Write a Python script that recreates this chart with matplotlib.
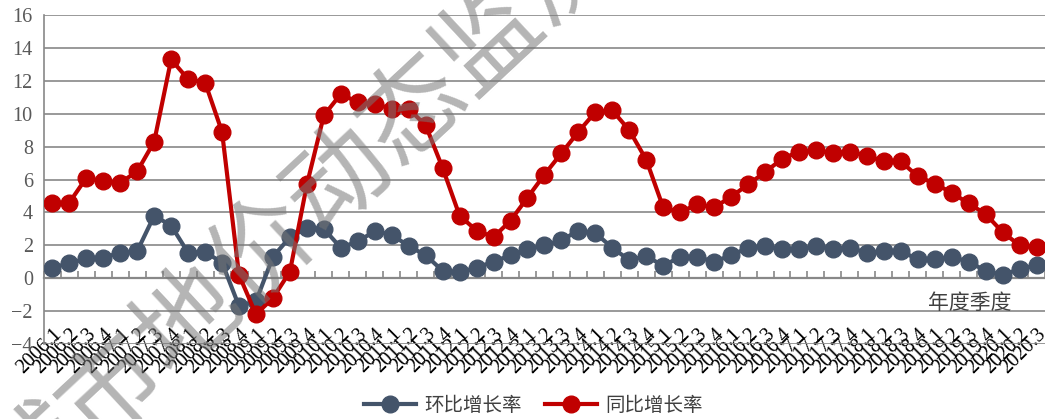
import matplotlib
matplotlib.use("Agg")
import matplotlib.pyplot as plt

# quarters 2006.1 .. 2020.3
labels = [f"{y}.{q}" for y in range(2006, 2021) for q in range(1, 5)][:59]

# 环比增长率 (quarter on quarter)
hb = [0.65, 0.9, 1.2, 1.25, 1.55, 1.65, 3.8, 3.2, 1.55, 1.6,
      0.95, -1.7, -1.4, 1.3, 2.5, 3.05, 3.0, 1.85, 2.25, 2.85,
      2.65, 1.95, 1.4, 0.45, 0.35, 0.65, 1.0, 1.4, 1.75, 2.0,
      2.3, 2.9, 2.75, 1.85, 1.1, 1.35, 0.75, 1.3, 1.3, 1.0,
      1.4, 1.85, 1.95, 1.75, 1.75, 1.95, 1.8, 1.85, 1.55, 1.65,
      1.65, 1.15, 1.15, 1.3, 1.0, 0.45, 0.2, 0.55, 0.8]

# 同比增长率 (year on year)
tb = [4.55, 4.6, 6.1, 5.9, 5.8, 6.5, 8.3, 13.3, 12.1, 11.9,
      8.9, 0.2, -2.2, -1.2, 0.4, 5.7, 9.9, 11.2, 10.7, 10.6,
      10.3, 10.3, 9.3, 6.7, 3.8, 2.9, 2.5, 3.5, 4.9, 6.3,
      7.6, 8.9, 10.1, 10.2, 9.0, 7.2, 4.3, 4.0, 4.5, 4.3,
      4.95, 5.7, 6.45, 7.25, 7.7, 7.8, 7.6, 7.7, 7.45, 7.1,
      7.1, 6.2, 5.75, 5.2, 4.55, 3.9, 2.8, 2.0, 1.9]

CJK = ["Noto Sans CJK SC", "DejaVu Sans"]
SERIF = ["Liberation Serif", "DejaVu Serif"]
GRID = "#888888"

fig = plt.figure(figsize=(10.45, 4.19), dpi=100)
ax = fig.add_axes([0.042, 0.179, 0.958, 0.785])

x = list(range(len(labels)))
ax.plot(x, hb, color="#44546A", lw=3, marker="o", ms=12, label="环比增长率", zorder=3)
ax.plot(x, tb, color="#C00000", lw=3, marker="o", ms=12, label="同比增长率", zorder=4)

ax.set_xlim(-0.5, len(labels) - 0.5)
ax.set_ylim(-4, 16)
ax.set_yticks(range(-4, 17, 2))
ax.grid(axis="y", color=GRID, lw=1.2)
ax.set_axisbelow(True)
for s in ["top", "right", "bottom"]:
    ax.spines[s].set_visible(False)
ax.spines["left"].set_color(GRID)
ax.spines["left"].set_linewidth(1.2)

ax.tick_params(axis="y", length=0, pad=8, labelcolor="#595959")
for t in ax.get_yticklabels():
    t.set_family(SERIF)
    t.set_fontsize(14.5)

ax.set_xticks(x)
ax.set_xticklabels(labels, rotation=45, ha="right", va="top",
                   rotation_mode="anchor", family=SERIF, fontsize=14.5)
ax.tick_params(axis="x", length=0, pad=-14)

# category axis crossing at y=0 with tick marks between categories
sec = ax.secondary_xaxis(0, transform=ax.transData)
sec.set_xticks([i - 0.5 for i in x] + [len(labels) - 0.5])
sec.tick_params(axis="x", direction="in", length=5, width=1.2, color=GRID,
                labelbottom=False)
sec.spines["bottom"].set_color(GRID)
sec.spines["bottom"].set_linewidth(1.6)

ax.text(0.925, 0.125, "年度季度", transform=ax.transAxes, ha="center",
        va="center", family=CJK, fontsize=15, color="#404040")

leg = fig.legend(loc="center", bbox_to_anchor=(0.51, 0.033), ncol=2,
                 frameon=False, prop={"family": CJK, "size": 14},
                 handlelength=2.7, columnspacing=1.2, handletextpad=0.4)
for t in leg.get_texts():
    t.set_color("#404040")

# watermark
fig.text(302 / 1045, 1 - 215 / 419, "城市地价动态监测", rotation=43,
         ha="center", va="center", family=CJK, fontsize=74,
         color="#777777", alpha=0.55, zorder=10)

fig.savefig("out.png", dpi=100)
